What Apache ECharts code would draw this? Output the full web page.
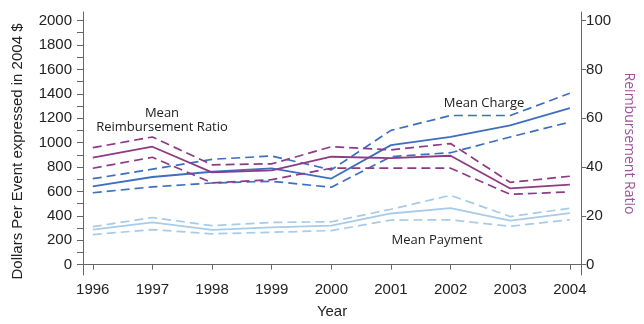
<!DOCTYPE html>
<html>
<head>
<meta charset="utf-8">
<script src="https://cdn.jsdelivr.net/npm/echarts@6/dist/echarts.min.js"></script>
<style>
  html, body { margin: 0; padding: 0; background: #fff; }
  #container { width: 644px; height: 324px; }
</style>
</head>
<body>
<div id="container"></div>
<script>
  var years = [1996, 1997, 1998, 1999, 2000, 2001, 2002, 2003, 2004];

  // dollars (left axis)
  var chargeMean  = [642, 718, 761, 788, 705, 979, 1046, 1141, 1283];
  var chargeUpper = [704, 782, 863, 890, 777, 1100, 1222, 1222, 1404];
  var chargeLower = [589, 637, 669, 683, 634, 885, 917, 1046, 1168];

  var paymentMean  = [287, 346, 284, 306, 319, 419, 463, 360, 422];
  var paymentUpper = [311, 386, 319, 346, 351, 454, 568, 394, 462];
  var paymentLower = [246, 287, 252, 265, 279, 365, 367, 314, 368];

  // ratio in % (right axis)
  var ratioMean  = [43.8, 48.3, 37.8, 38.6, 44.2, 43.6, 44.6, 31.2, 32.8];
  var ratioUpper = [47.9, 52.3, 40.9, 41.3, 48.3, 47.0, 49.6, 33.7, 36.2];
  var ratioLower = [39.5, 44.0, 33.5, 34.8, 39.5, 39.5, 39.5, 28.8, 29.8];

  var leftLabels = [0, 200, 400, 600, 800, 1000, 1200, 1400, 1600, 1800, 2000];
  var leftTicks = [0, 100, 200, 300, 400, 500, 600, 700, 800, 900, 1000,
                   1100, 1200, 1300, 1400, 1500, 1600, 1700, 1800, 1900, 2000];
  var rightLabels = [0, 20, 40, 60, 80, 100];

  var cCharge = '#3d6fc0';
  var cPayment = '#a8cbe8';
  var cRatio = '#8f3a86';
  var axisColor = '#666';

  function pts(vals) {
    return years.map(function (y, i) { return [y, vals[i]]; });
  }
  function line(vals, color, dashed, axis) {
    return {
      type: 'line',
      yAxisIndex: axis || 0,
      data: pts(vals),
      symbol: 'none',
      silent: true,
      lineStyle: { color: color, width: dashed ? 1.7 : 1.8, type: dashed ? [9, 5] : 'solid' }
    };
  }
  function plain(v) { return String(v); }

  var dom = document.getElementById('container');
  var myChart = echarts.init(dom, null, { renderer: 'canvas' });

  var option = {
    backgroundColor: '#fff',
    animation: false,
    grid: { left: 83, right: 50.5, top: 12, bottom: 44 },
    xAxis: {
      type: 'value',
      min: 1995.836,
      max: 2004.188,
      name: 'Year',
      nameLocation: 'middle',
      nameGap: 29,
      nameTextStyle: { fontFamily: 'Liberation Sans', fontSize: 15, color: '#222' },
      splitLine: { show: false },
      axisLine: { lineStyle: { color: axisColor } },
      axisTick: { length: 5, customValues: years, lineStyle: { color: axisColor } },
      axisLabel: {
        customValues: years,
        margin: 7,
        fontFamily: 'Liberation Sans', fontSize: 15, color: '#222',
        formatter: plain
      }
    },
    yAxis: [
      {
        type: 'value',
        min: -85,
        max: 2070,
        name: 'Dollars Per Event expressed in 2004 $',
        nameLocation: 'middle',
        nameGap: 58,
        nameRotate: 90,
        nameTextStyle: { fontFamily: 'Liberation Sans', fontSize: 15, color: '#222', padding: [0, 16, 0, 0] },
        splitLine: { show: false },
        axisLine: { show: true, lineStyle: { color: axisColor } },
        axisTick: { show: true, length: 6, customValues: leftTicks, lineStyle: { color: axisColor } },
        axisLabel: {
          customValues: leftLabels,
          margin: 11,
          fontFamily: 'Liberation Sans', fontSize: 15, color: '#222',
          formatter: plain
        }
      },
      {
        type: 'value',
        min: -4.25,
        max: 103.5,
        position: 'right',
        name: 'Reimbursement Ratio',
        nameLocation: 'middle',
        nameGap: 36,
        nameRotate: -90,
        nameTextStyle: { fontFamily: 'Open Sans', fontSize: 14, color: '#a0529a' },
        splitLine: { show: false },
        axisLine: { show: true, lineStyle: { color: axisColor } },
        axisTick: { show: true, length: 5, customValues: rightLabels, lineStyle: { color: axisColor } },
        axisLabel: {
          customValues: rightLabels,
          margin: 5,
          fontFamily: 'Liberation Sans', fontSize: 15, color: '#222',
          formatter: plain
        }
      }
    ],
    graphic: [
      { type: 'text', x: 162, y: 113, style: { text: 'Mean', fontFamily: 'Open Sans', fontSize: 13, fill: '#222', align: 'center', verticalAlign: 'middle' } },
      { type: 'text', x: 162, y: 127, style: { text: 'Reimbursement Ratio', fontFamily: 'Open Sans', fontSize: 13, fill: '#222', align: 'center', verticalAlign: 'middle' } },
      { type: 'text', x: 484, y: 103, style: { text: 'Mean Charge', fontFamily: 'Open Sans', fontSize: 13, fill: '#222', align: 'center', verticalAlign: 'middle' } },
      { type: 'text', x: 437, y: 240, style: { text: 'Mean Payment', fontFamily: 'Open Sans', fontSize: 13, fill: '#222', align: 'center', verticalAlign: 'middle' } }
    ],
    series: [
      line(paymentUpper, cPayment, true),
      line(paymentLower, cPayment, true),
      line(paymentMean, cPayment, false),
      line(chargeUpper, cCharge, true),
      line(chargeLower, cCharge, true),
      line(chargeMean, cCharge, false),
      line(ratioUpper, cRatio, true, 1),
      line(ratioLower, cRatio, true, 1),
      line(ratioMean, cRatio, false, 1)
    ]
  };

  myChart.setOption(option);
  window.addEventListener('resize', myChart.resize);
</script>
</body>
</html>
